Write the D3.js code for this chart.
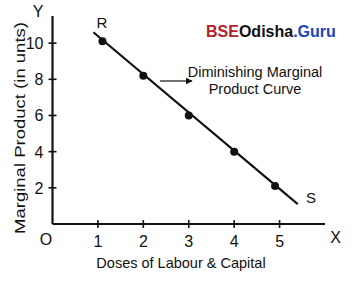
<!DOCTYPE html>
<html>
<head>
<meta charset="utf-8">
<script src="https://cdn.jsdelivr.net/npm/d3@7"></script>
<style>
  body { margin: 0; background: #fff; }
  text { font-family: "Liberation Sans", Arial, sans-serif; fill: #111; }
</style>
</head>
<body>
<div id="chart"></div>
<script>
// data
var doses = [1.1, 2, 3, 4, 4.9];
var marginalProduct = [10.1, 8.2, 6, 4, 2.1];
var curveEnds = [[0.9, 10.6], [5.4, 1.1]];
var xTicks = [1, 2, 3, 4, 5];
var yTicks = [2, 4, 6, 8, 10];

var width = 352, height = 283;

var svg = d3.select('#chart').append('svg')
  .attr('width', width).attr('height', height);

var x = d3.scaleLinear().domain([0, 6]).range([52.5, 325]);
var y = d3.scaleLinear().domain([0, 11.5]).range([224, 16]);

// axes
svg.append('line').attr('x1', x(0)).attr('x2', x(0)).attr('y1', y(11.5)).attr('y2', y(0))
  .attr('stroke', '#111').attr('stroke-width', 2.2);
svg.append('line').attr('x1', x(0)).attr('x2', x(6)).attr('y1', y(0)).attr('y2', y(0))
  .attr('stroke', '#111').attr('stroke-width', 2.2);

// ticks crossing the axes
svg.selectAll('.xt').data(xTicks).enter().append('line')
  .attr('x1', function(d) { return x(d); }).attr('x2', function(d) { return x(d); })
  .attr('y1', y(0) - 4).attr('y2', y(0) + 4)
  .attr('stroke', '#111').attr('stroke-width', 1.6);
svg.selectAll('.yt').data(yTicks).enter().append('line')
  .attr('x1', x(0) - 4).attr('x2', x(0) + 4)
  .attr('y1', function(d) { return y(d); }).attr('y2', function(d) { return y(d); })
  .attr('stroke', '#111').attr('stroke-width', 1.6);

// tick labels
svg.selectAll('.xl').data(xTicks).enter().append('text')
  .attr('x', function(d) { return x(d); }).attr('y', y(0) + 23)
  .attr('text-anchor', 'middle').attr('font-size', 16)
  .text(function(d) { return d; });
svg.selectAll('.yl').data(yTicks).enter().append('text')
  .attr('x', x(0) - 9).attr('y', function(d) { return y(d) + 6; })
  .attr('text-anchor', 'end').attr('font-size', 16)
  .text(function(d) { return d; });

// axis letters
svg.append('text').attr('x', 38).attr('y', 17).attr('text-anchor', 'middle').attr('font-size', 16).text('Y');
svg.append('text').attr('x', 335.5).attr('y', 243).attr('text-anchor', 'middle').attr('font-size', 16).text('X');
svg.append('text').attr('x', 46).attr('y', 245).attr('text-anchor', 'middle').attr('font-size', 16).text('O');

// axis titles
svg.append('text').attr('x', 181).attr('y', 268).attr('text-anchor', 'middle').attr('font-size', 14.5)
  .text('Doses of Labour & Capital');
svg.append('text').attr('transform', 'translate(25,' + 128 + ') rotate(-90)')
  .attr('text-anchor', 'middle').attr('font-size', 15)
  .attr('textLength', 212).attr('lengthAdjust', 'spacingAndGlyphs')
  .text('Marginal Product (in unts)');

// the curve
svg.append('line')
  .attr('x1', x(curveEnds[0][0])).attr('y1', y(curveEnds[0][1]))
  .attr('x2', x(curveEnds[1][0])).attr('y2', y(curveEnds[1][1]))
  .attr('stroke', '#111').attr('stroke-width', 2.2);

svg.selectAll('.dot').data(doses).enter().append('circle')
  .attr('cx', function(d) { return x(d); })
  .attr('cy', function(d, i) { return y(marginalProduct[i]); })
  .attr('r', 4).attr('fill', '#111');

svg.append('text').attr('x', 102).attr('y', 28).attr('text-anchor', 'middle').attr('font-size', 15).text('R');
svg.append('text').attr('x', 311).attr('y', 203).attr('text-anchor', 'middle').attr('font-size', 15).text('S');

// annotation with arrow
svg.append('defs').append('marker').attr('id', 'arr')
  .attr('viewBox', '0 0 10 10').attr('refX', 9).attr('refY', 5)
  .attr('markerWidth', 6).attr('markerHeight', 6).attr('orient', 'auto')
  .append('path').attr('d', 'M0,0 L10,5 L0,10 z').attr('fill', '#111');
svg.append('line').attr('x1', 160).attr('x2', 192).attr('y1', 81).attr('y2', 81)
  .attr('stroke', '#111').attr('stroke-width', 1.2).attr('marker-end', 'url(#arr)');
svg.append('text').attr('x', 255).attr('y', 77).attr('text-anchor', 'middle').attr('font-size', 14.5)
  .text('Diminishing Marginal');
svg.append('text').attr('x', 255).attr('y', 94).attr('text-anchor', 'middle').attr('font-size', 14.5)
  .text('Product Curve');

// watermark
var wm = svg.append('text').attr('x', 206).attr('y', 37).attr('font-size', 16).attr('font-weight', 'bold');
wm.append('tspan').style('fill', '#b3202a').text('BSE');
wm.append('tspan').style('fill', '#111').text('Odisha');
wm.append('tspan').style('fill', '#1d43c9').text('.Guru');
</script>
</body>
</html>
